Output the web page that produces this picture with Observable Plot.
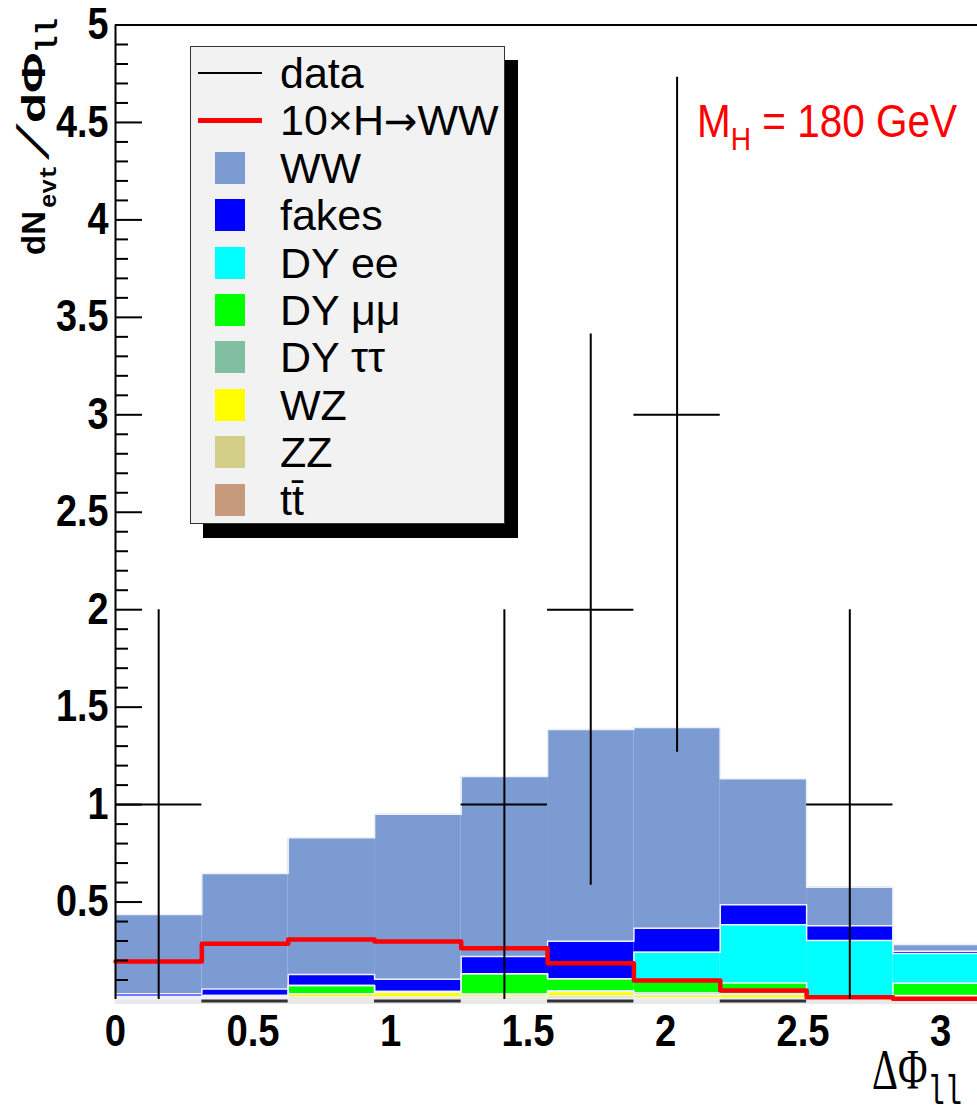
<!DOCTYPE html>
<html><head><meta charset="utf-8">
<script src="https://cdn.jsdelivr.net/npm/d3@7"></script>
<script src="https://cdn.jsdelivr.net/npm/@observablehq/plot@0.6"></script>
<style>
html,body{margin:0;padding:0;background:#fff;overflow:hidden;}
#wrap{position:relative;width:977px;height:1114px;overflow:hidden;}
#wrap svg{position:absolute;left:0;top:0;max-width:none !important;}
#legend{position:absolute;left:190px;top:46px;width:313px;height:476px;background:#f2f2f2;border:1px solid #333;box-shadow:13px 14px 0 #000;font-family:"Liberation Sans",Arial,sans-serif;font-size:43px;color:#000;}
#legend .row{position:absolute;left:0;width:100%;height:46px;}
#legend .sym{position:absolute;}
#legend .lab{position:absolute;left:89px;top:50%;transform:translateY(-50%);line-height:1;white-space:nowrap;}
#legend .arrow{font-family:"DejaVu Sans",sans-serif;font-size:40px;}
</style></head><body><div id="wrap"></div>
<script>
// ---- data ----
const binEdges = [0, 0.314, 0.628, 0.942, 1.257, 1.571, 1.885, 2.199, 2.513, 2.827, 3.142];
const ttbar = [0, 0, 0.003, 0.003, 0.003, 0.006, 0.003, 0.002, 0, 0];
const zz    = [0.004, 0.006, 0.008, 0.009, 0.009, 0.012, 0.006, 0.004, 0.004, 0.008];
const wz    = [0.006, 0.008, 0.018, 0.025, 0.012, 0.023, 0.016, 0.020, 0.006, 0.008];
const dyTauTau = [0, 0, 0, 0, 0.004, 0.003, 0.008, 0.004, 0.004, 0.004];
const dyMuMu = [0.006, 0.006, 0.043, 0.004, 0.104, 0.062, 0.067, 0.055, 0, 0.064];
const dyEE  = [0, 0, 0, 0, 0, 0, 0.143, 0.298, 0.289, 0.152];
const fakes = [0.014, 0.034, 0.056, 0.063, 0.088, 0.193, 0.123, 0.103, 0.076, 0.012];
const ww    = [0.406, 0.592, 0.702, 0.846, 0.924, 1.086, 1.029, 0.647, 0.197, 0.034];
const higgs10x = [0.195, 0.286, 0.308, 0.297, 0.263, 0.186, 0.097, 0.046, 0.012, 0.004];
const dataCounts = [1, 0, 0, 0, 1, 2, 3, 0, 1, 0];
const dataErrors = [1, 0, 0, 0, 1, 1.414, 1.732, 0, 1, 0];
const baselineSegmentBins = [1, 3, 5, 7];
const yMajorTicks = [0.5, 1, 1.5, 2, 2.5, 3, 3.5, 4, 4.5, 5];
const xTicks = [0, 0.5, 1, 1.5, 2, 2.5, 3];
const layerNames = ["tt̄", "ZZ", "WZ", "DY ττ", "DY μμ", "DY ee", "fakes", "WW"];
const layerValues = [ttbar, zz, wz, dyTauTau, dyMuMu, dyEE, fakes, ww];
const layerColors = ["#c69b7b", "#d3cf88", "#ffff00", "#80bf9f", "#00ff00", "#00ffff", "#0000ff", "#7b9bd2"];

// ---- derived tables ----
const nb = binEdges.length - 1;
const cum = new Array(nb).fill(0);
const rects = [], outlines = [];
layerValues.forEach((vals, li) => {
  vals.forEach((v, i) => {
    rects.push({x1: binEdges[i], x2: binEdges[i + 1], y1: cum[i], y2: cum[i] + v, color: layerColors[li]});
    cum[i] += v;
  });
  cum.forEach((c, i) => outlines.push({layer: li, x: binEdges[i], y: c}));
  outlines.push({layer: li, x: binEdges[nb], y: cum[nb - 1]});
});
const higgsPts = higgs10x.map((v, i) => ({x: binEdges[i], y: v}));
higgsPts.push({x: binEdges[nb], y: higgs10x[nb - 1]});
const dataPts = dataCounts.map((v, i) => ({x1: binEdges[i], x2: binEdges[i + 1], xc: (binEdges[i] + binEdges[i + 1]) / 2, y: v, lo: v - dataErrors[i], hi: v + dataErrors[i]})).filter(d => d.y > 0);
const baseSegs = baselineSegmentBins.map(i => ({x1: binEdges[i], x2: binEdges[i + 1]}));
const yMinorTicks = d3.range(1, 50).map(k => k / 10).filter(v => Math.abs(v * 2 - Math.round(v * 2)) > 1e-6);

const FONT = "'Liberation Sans', Arial, sans-serif";
const MONO = "'Liberation Mono', monospace";
const svg = Plot.plot({
  width: 985, height: 1114,
  marginLeft: 115, marginRight: 6, marginTop: 24.5, marginBottom: 115,
  x: {domain: [0, Math.PI]},
  y: {domain: [0, 5]},
  style: {background: "transparent", fontFamily: FONT, overflow: "visible"},
  marks: [
    Plot.ruleY([0], {stroke: "#e8e8e8", strokeWidth: 5, dy: 2}),
    Plot.rect(rects, {x1: "x1", x2: "x2", y1: "y1", y2: "y2", fill: "color"}),
    Plot.line(outlines, {x: "x", y: "y", z: "layer", curve: "step-after", stroke: "#eef0fa", strokeWidth: 1.5}),
    Plot.line(higgsPts, {x: "x", y: "y", curve: "step-after", stroke: "#ff0000", strokeWidth: 4.5}),
    Plot.ruleY(baseSegs, {x1: "x1", x2: "x2", y: 0, dy: 1.5, stroke: "#333", strokeWidth: 3}),
    Plot.ruleX(dataPts, {x: "xc", y1: "lo", y2: "hi", stroke: "#000", strokeWidth: 2}),
    Plot.ruleY(dataPts, {x1: "x1", x2: "x2", y: "y", stroke: "#000", strokeWidth: 2}),
    Plot.ruleX([0], {stroke: "#000", strokeWidth: 2}),
    Plot.ruleY([5], {stroke: "#000", strokeWidth: 2}),
    Plot.axisY({ticks: yMinorTicks, tickSize: -13, tickFormat: () => "", label: null, strokeWidth: 2}),
    Plot.axisY({ticks: yMajorTicks, tickSize: -27, tickFormat: () => "", label: null, strokeWidth: 2}),
    Plot.axisY({ticks: yMajorTicks, tickSize: 0, tickPadding: 7, tickFormat: d => String(d), label: null, fontSize: 44, fontWeight: "bold", fill: "#000"}),
    Plot.axisX({ticks: xTicks, tickSize: 0, tickPadding: 15, tickFormat: d => String(d), label: null, fontSize: 45, fontWeight: "bold", fill: "#000"})
  ]
});
svg.style.maxWidth = "none";
document.getElementById("wrap").appendChild(svg);

// condense tick labels horizontally (the reference's glyphs are narrow)
function condense(sel, s) {
  d3.select(svg).selectAll(sel).each(function () {
    const t = this.getAttribute("transform");
    if (t) { this.setAttribute("transform", t + ` scale(${s},1)`); }
    else {
      const x = +this.getAttribute("x") || 0, y = +this.getAttribute("y") || 0;
      this.removeAttribute("x"); this.removeAttribute("y");
      this.setAttribute("transform", `translate(${x},${y}) scale(${s},1)`);
    }
  });
}
condense('g[aria-label="y-axis tick label"] text', 0.86);
condense('g[aria-label="x-axis tick label"] text', 0.85);

const S = d3.select(svg);
// y-axis title: dN_evt / dΦ_ll  (rotated; pieces placed along the axis)
function yPiece(txt, yStart, xBase, opts) {
  return S.append("text")
    .attr("transform", `translate(${xBase},${yStart}) rotate(-90) ${opts.extra || ""}`)
    .attr("text-anchor", "start")
    .attr("font-family", opts.family || FONT)
    .attr("font-weight", opts.weight || "bold")
    .attr("font-size", opts.size)
    .attr("fill", "#000")
    .text(txt);
}
yPiece("dN", 255, 45, {size: 33});
yPiece("evt", 208, 56, {size: 24, family: MONO});
yPiece("/", 160, 48, {size: 44, extra: "skewX(-38)"});
yPiece("dΦ", 123, 45, {size: 34, extra: "scale(1.45,1)"});
yPiece("ll", 53, 57, {size: 29, family: MONO});

// x-axis title: ΔΦ_ll
const xt = S.append("text").attr("transform", "translate(872,1089) scale(0.72,1)")
  .attr("text-anchor", "start")
  .attr("font-family", "'Liberation Serif', serif").attr("font-size", 56).attr("fill", "#000");
xt.append("tspan").text("ΔΦ");
xt.append("tspan").attr("font-family", MONO).attr("font-size", 40).attr("dy", 15).text("ll");

// annotation
const mt = S.append("text").attr("transform", "translate(697,137) scale(0.88,1)")
  .attr("text-anchor", "start")
  .attr("font-family", FONT).attr("font-size", 46).attr("fill", "#ff0000");
mt.append("tspan").text("M");
mt.append("tspan").attr("font-size", 32).attr("dy", 13).text("H");
mt.append("tspan").attr("dy", -13).text(" = 180 GeV");

// legend
const legend = document.createElement("div");
legend.id = "legend";
const entries = [
  {label: "data", type: "line", color: "#000", w: 2},
  {label: "10×H→WW", type: "line", color: "#ff0000", w: 5}
];
for (let li = layerNames.length - 1; li >= 0; li--) entries.push({label: layerNames[li], type: "box", color: layerColors[li]});
entries.forEach((e, k) => {
  const row = document.createElement("div");
  row.className = "row";
  row.style.top = (3 + k * 47.4) + "px";
  const sym = document.createElement("div");
  sym.className = "sym";
  if (e.type === "line") {
    Object.assign(sym.style, {left: "7px", width: "64px", top: (23 - e.w / 2) + "px", height: e.w + "px", background: e.color});
  } else {
    Object.assign(sym.style, {left: "24px", width: "30px", top: "7px", height: "32px", background: e.color});
  }
  row.appendChild(sym);
  const lab = document.createElement("div");
  lab.className = "lab";
  if (e.label.includes("→")) {
    const [a, b] = e.label.split("→");
    lab.append(a);
    const ar = document.createElement("span");
    ar.className = "arrow";
    ar.textContent = "→";
    lab.append(ar, b);
  } else {
    lab.textContent = e.label;
  }
  row.appendChild(lab);
  legend.appendChild(row);
});
document.getElementById("wrap").appendChild(legend);
</script>
</body></html>
